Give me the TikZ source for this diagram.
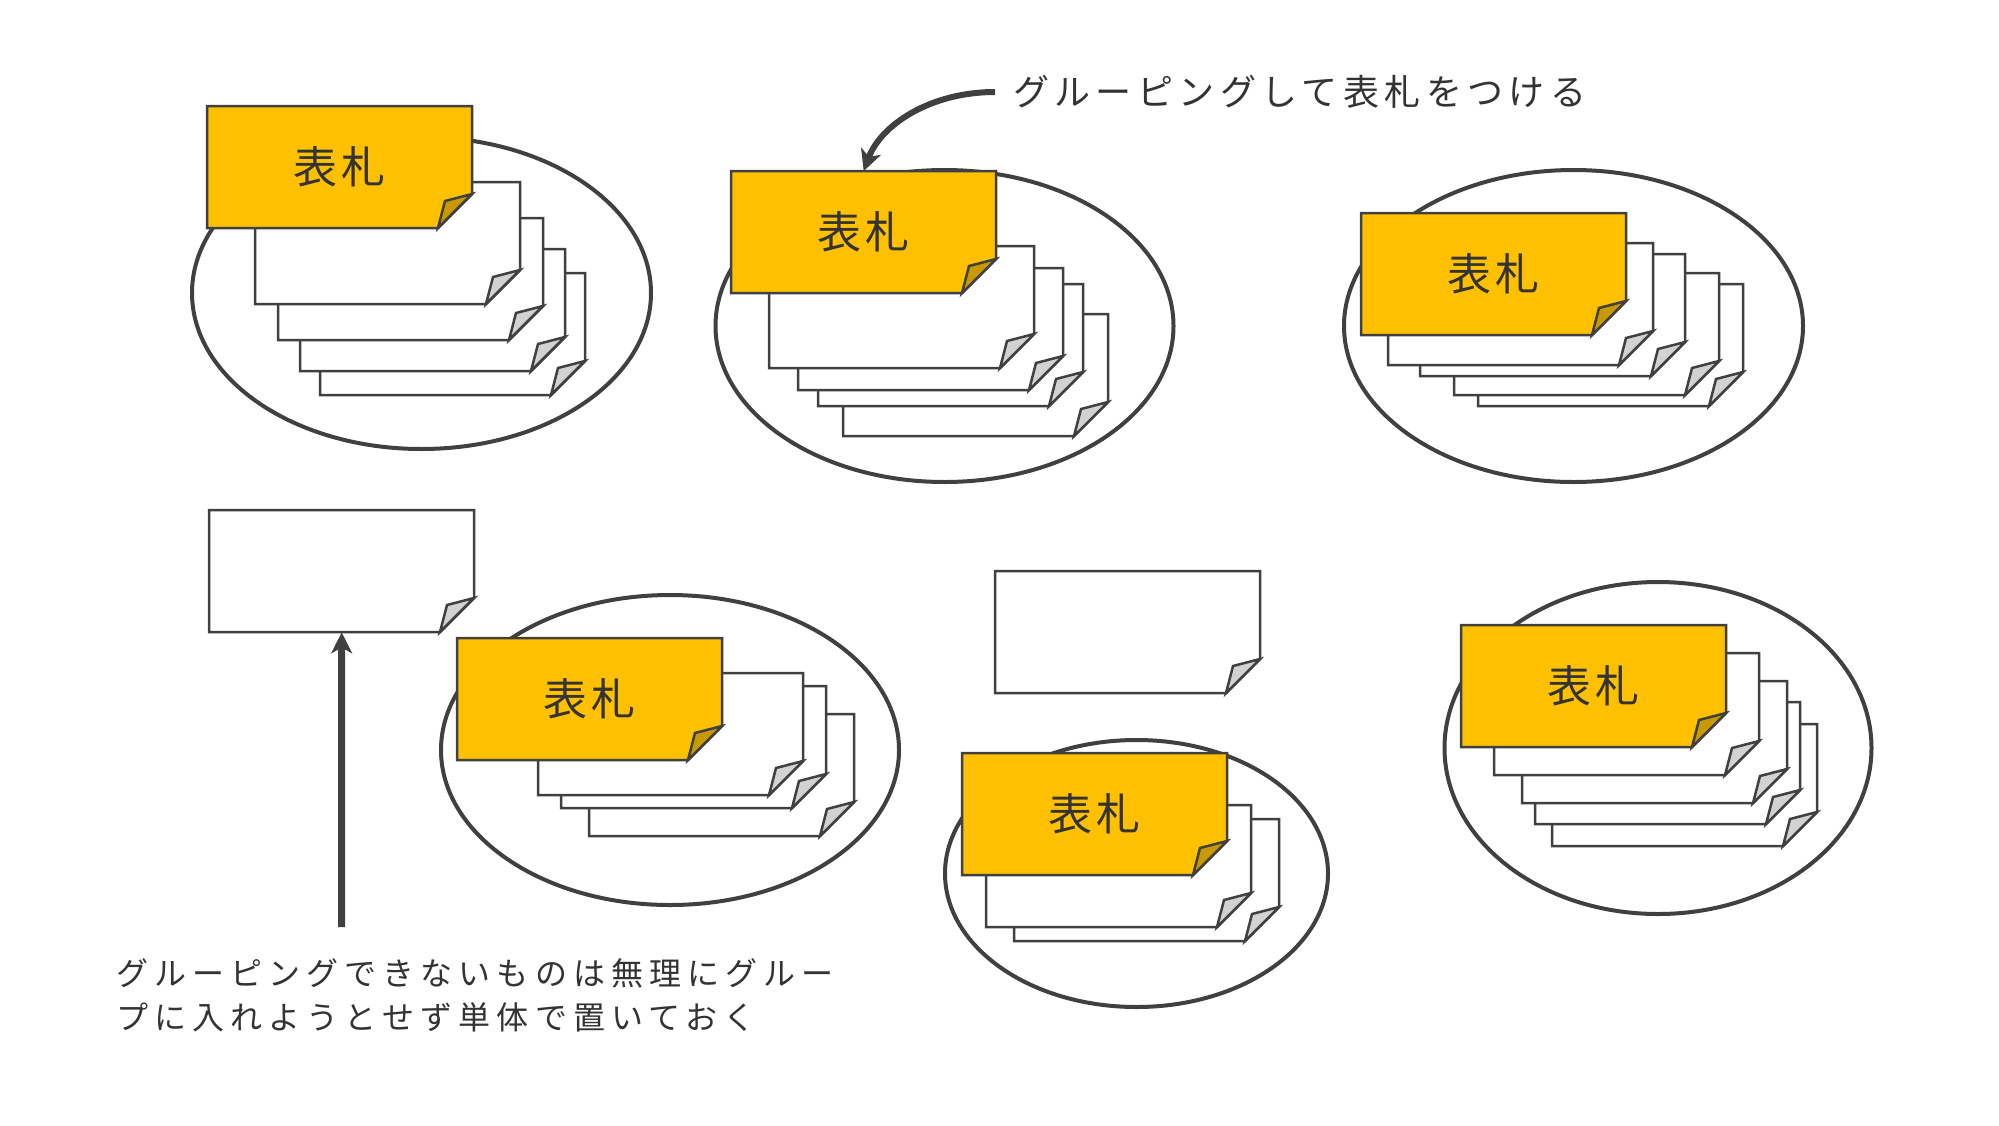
\documentclass[tikz,border=0pt]{standalone}
\usepackage{fontspec}
\setmainfont{Noto Sans CJK JP}
\newfontfamily\jpfont{Noto Sans CJK JP}[LetterSpace=9]
\newfontfamily\headfont{Noto Sans CJK JP}[LetterSpace=15]
\newfontfamily\notefont{Noto Sans CJK JP}[LetterSpace=19]
\usepackage{tikz}
\usetikzlibrary{shapes.geometric,arrows.meta}
\definecolor{linegray}{HTML}{404040}
\definecolor{textgray}{HTML}{333333}
\definecolor{tagyellow}{HTML}{FFC000}
\definecolor{tagfold}{HTML}{C99A00}
\definecolor{sheetfold}{HTML}{D2D2D2}
\tikzset{sheet/.style={draw=linegray,line width=2.5pt,line join=miter},
	 grp/.style={ellipse,draw=linegray,fill=white,line width=4pt,inner sep=0pt},
	 cardbox/.style={inner sep=0pt,minimum width=265pt,minimum height=122pt,anchor=north west,
	   text=textgray,font=\jpfont\fontsize{44}{50}\selectfont},
	 note/.style={inner sep=0pt,text=textgray},
	 bigarrow/.style={draw=linegray,line width=7pt,-{Stealth[length=21pt,width=21pt,inset=6pt]}}
	 }
% card: name, top left corner, fill, fold fill, text
\newcommand{\pcard}[5]{%
  \filldraw[sheet,fill=#3] (#2) -- ++(265,0) -- ++(0,88) -- ++(-34,34) -- ++(-231,0) -- cycle;
  \filldraw[sheet,fill=#4] ([shift={(231,122)}]#2) -- ++(7,-27) -- ++(27,-7) -- cycle;
  \node[cardbox] (#1) at (#2) {#5};}

\begin{document}
\begin{tikzpicture}[x=1pt,y=-1pt] % sheets grouped under name tags
	\useasboundingbox (0,0) rectangle (1999,1125);
	% group 1
	\node[grp,minimum width=459pt,minimum height=312pt] (g1) at (421.5,293) {};
	\pcard{s14}{320,273}{white}{sheetfold}{}
	\pcard{s13}{300,249}{white}{sheetfold}{}
	\pcard{s12}{278,218}{white}{sheetfold}{}
	\pcard{s11}{255,182}{white}{sheetfold}{}
	\pcard{t1}{207,106}{tagyellow}{tagfold}{表札}
	% group 2
	\node[grp,minimum width=458pt,minimum height=312pt] (g2) at (944.5,326) {};
	\pcard{s24}{843,314}{white}{sheetfold}{}
	\pcard{s23}{818,284}{white}{sheetfold}{}
	\pcard{s22}{798,268}{white}{sheetfold}{}
	\pcard{s21}{769,246}{white}{sheetfold}{}
	\pcard{t2}{731,171}{tagyellow}{tagfold}{表札}
	% group 3
	\node[grp,minimum width=459pt,minimum height=312pt] (g3) at (1573.5,326) {};
	\pcard{s34}{1478,284}{white}{sheetfold}{}
	\pcard{s33}{1454,273}{white}{sheetfold}{}
	\pcard{s32}{1420,254}{white}{sheetfold}{}
	\pcard{s31}{1388,243}{white}{sheetfold}{}
	\pcard{t3}{1361,213}{tagyellow}{tagfold}{表札}
	% group 4
	\node[grp,minimum width=458pt,minimum height=310pt] (g4) at (670,750) {};
	\pcard{s43}{589,714}{white}{sheetfold}{}
	\pcard{s42}{561,686}{white}{sheetfold}{}
	\pcard{s41}{538,673}{white}{sheetfold}{}
	\pcard{t4}{457,638}{tagyellow}{tagfold}{表札}
	% group 5
	\node[grp,minimum width=383pt,minimum height=267pt] (g5) at (1136.5,873.5) {};
	\pcard{s52}{1014,819}{white}{sheetfold}{}
	\pcard{s51}{986,805}{white}{sheetfold}{}
	\pcard{t5}{962,753}{tagyellow}{tagfold}{表札}
	% group 6
	\node[grp,minimum width=427pt,minimum height=332pt] (g6) at (1658,748) {};
	\pcard{s64}{1552,724}{white}{sheetfold}{}
	\pcard{s63}{1535,702}{white}{sheetfold}{}
	\pcard{s62}{1522,681}{white}{sheetfold}{}
	\pcard{s61}{1494,653}{white}{sheetfold}{}
	\pcard{t6}{1461,625}{tagyellow}{tagfold}{表札}
	% loose sheets
	\pcard{w1}{209,510}{white}{sheetfold}{}
	\pcard{w2}{995,571}{white}{sheetfold}{}
	% notes
	\node[note,anchor=west,font=\headfont\fontsize{36}{40}\selectfont] (head) at (1013,92) {グルーピングして表札をつける};
	\node[note,anchor=north west,align=left,font=\notefont\fontsize{32}{44}\selectfont] (foot) at (116,958)
	  {グルーピングできないものは無理にグルー\\プに入れようとせず単体で置いておく};
	\coordinate (up) at (341.5,927);
	\draw[bigarrow,line width=6pt] ([xshift=-18pt]head.west) .. controls +(-65,0) and +(17,-46) .. (t2.north);
	\draw[bigarrow] (up) -- (w1.south);
\end{tikzpicture}
\end{document}
